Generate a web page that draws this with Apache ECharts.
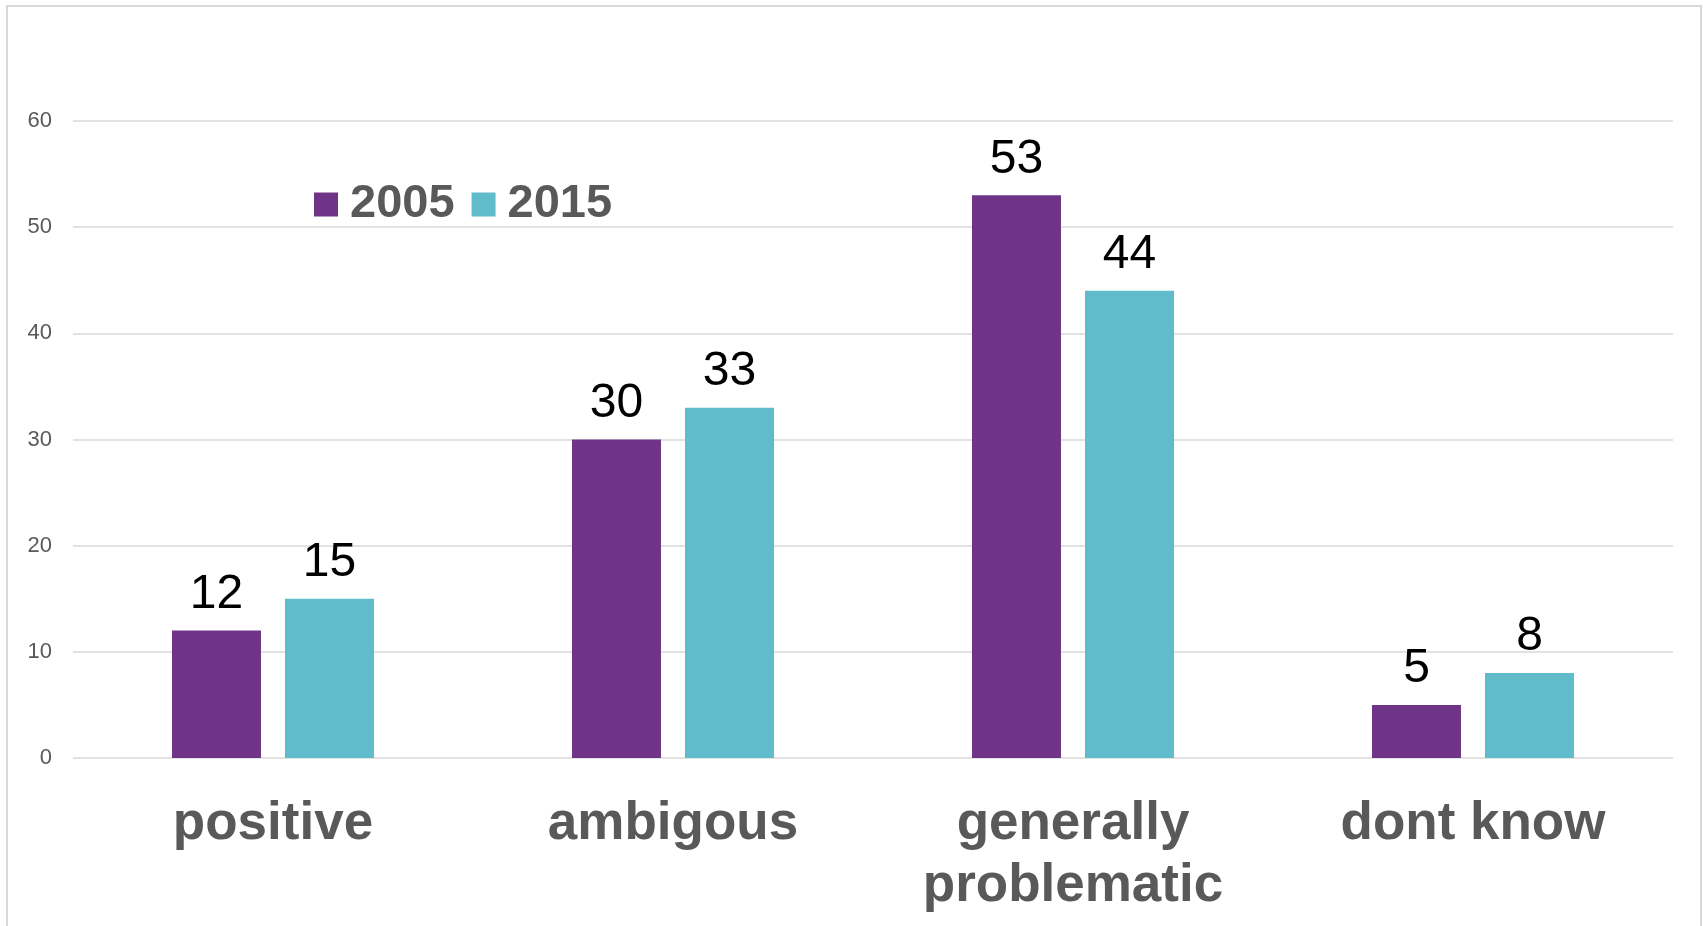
<!DOCTYPE html>
<html>
<head>
<meta charset="utf-8">
<title>2005 vs 2015</title>
<script src="https://cdn.jsdelivr.net/npm/echarts@6/dist/echarts.min.js"></script>
<style>
  html, body { margin: 0; padding: 0; background: #ffffff; }
  #chart { width: 1703px; height: 926px; }
</style>
</head>
<body>
<div id="chart"></div>
<script>
// Survey answers by category, two survey years
const categories = ['positive', 'ambigous', 'generally\nproblematic', 'dont know'];
const seriesNames = ['2005', '2015'];
const values2005 = [12, 30, 53, 5];
const values2015 = [15, 33, 44, 8];
const yTicks = [0, 10, 20, 30, 40, 50, 60];

const FONT = '"Liberation Sans", Arial, sans-serif';
const colors = ['#6f3488', '#60bbcb'];

const chart = echarts.init(document.getElementById('chart'), null, { renderer: 'canvas' });

const labelStyle = {
  show: true,
  position: 'top',
  distance: 12,
  color: '#000000',
  fontFamily: FONT,
  fontSize: 48,
  lineHeight: 48
};

chart.setOption({
  backgroundColor: '#ffffff',
  animation: false,
  color: colors,
  graphic: [{
    type: 'rect',
    silent: true,
    shape: { x: 7, y: 6, width: 1694, height: 960 },
    style: { fill: 'none', stroke: '#d9d9d9', lineWidth: 2 }
  }],
  legend: {
    data: seriesNames,
    left: 314,
    top: 181,
    padding: 0,
    itemWidth: 24,
    itemHeight: 24,
    itemGap: 17,
    icon: 'rect',
    textStyle: {
      color: '#595959',
      fontFamily: FONT,
      fontWeight: 'bold',
      fontSize: 47,
      padding: [0, 0, 0, 7]
    }
  },
  grid: {
    left: 73,
    right: 30,
    top: 121,
    bottom: 168,
    containLabel: false
  },
  xAxis: {
    type: 'category',
    data: categories,
    axisLine: { show: false },
    axisTick: { show: false },
    axisLabel: {
      margin: 35,
      color: '#595959',
      fontFamily: FONT,
      fontWeight: 'bold',
      fontSize: 53,
      lineHeight: 62,
      interval: 0
    }
  },
  yAxis: {
    type: 'value',
    min: yTicks[0],
    max: yTicks[yTicks.length - 1],
    interval: yTicks[1] - yTicks[0],
    axisLine: { show: false },
    axisTick: { show: false },
    axisLabel: {
      margin: 21,
      color: '#595959',
      fontFamily: FONT,
      fontSize: 22
    },
    splitLine: { lineStyle: { color: '#d9d9d9', width: 1.5 } }
  },
  series: [
    {
      name: seriesNames[0],
      type: 'bar',
      data: values2005,
      barWidth: 89,
      barGap: '27%',
      itemStyle: { color: colors[0] },
      label: labelStyle
    },
    {
      name: seriesNames[1],
      type: 'bar',
      data: values2015,
      barWidth: 89,
      barGap: '27%',
      itemStyle: { color: colors[1] },
      label: labelStyle
    }
  ]
});
</script>
</body>
</html>
